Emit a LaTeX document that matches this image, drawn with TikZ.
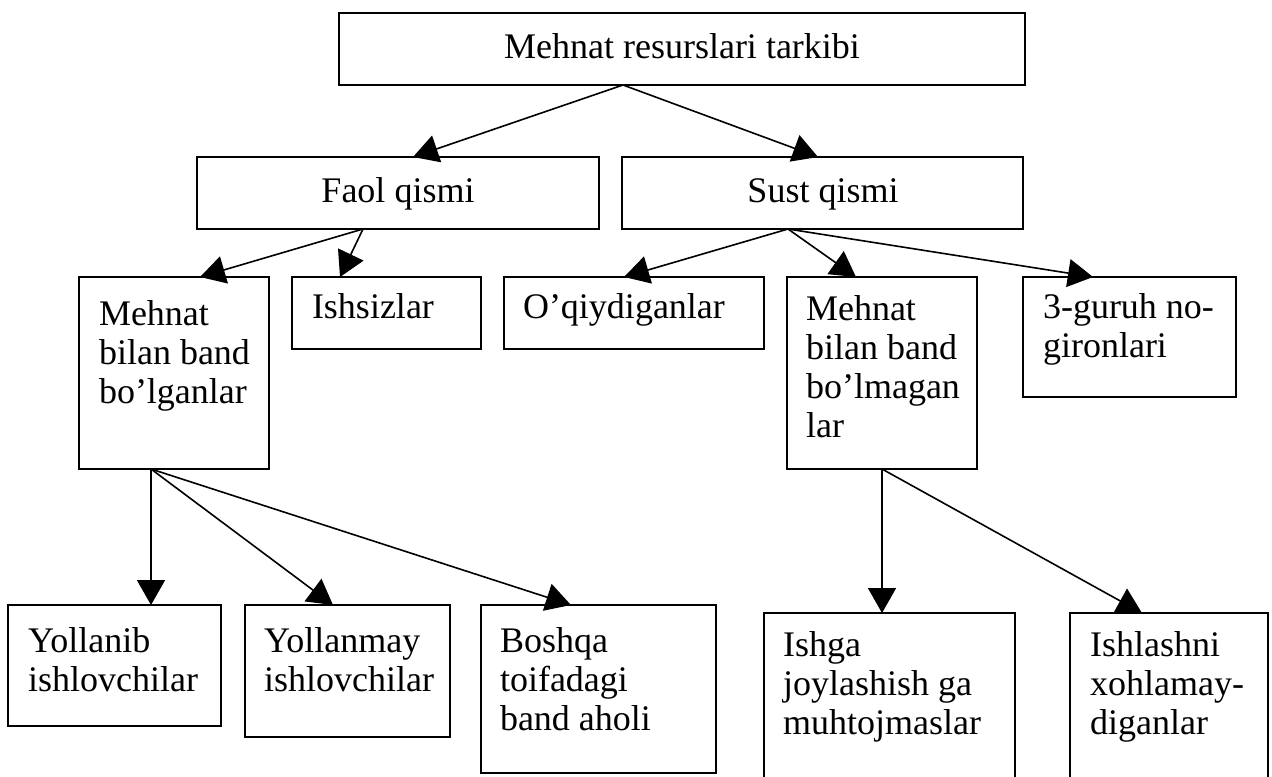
\documentclass[tikz,border=0pt]{standalone}
\usepackage{fontspec}
\setmainfont{Liberation Serif}
\usetikzlibrary{arrows.meta,calc}
\tikzset{
  box/.style={draw, line width=0.8pt, inner sep=0pt, outer sep=0pt, anchor=north west, fill=white},
  txt/.style={inner sep=0pt, outer sep=0pt, anchor=base west, font=\fontsize{18}{19.5}\selectfont},
  ctxt/.style={txt, anchor=base},
  arr/.style={line width=0.8pt, -{Triangle[length=12.5pt,width=14pt]}}
}
\newcommand{\lines}[1]{\begin{tabular}[t]{@{}l@{}}#1\end{tabular}}
\begin{document}
\begin{tikzpicture}[x=0.5pt,y=-0.5pt]
\clip (0,0) rectangle (1272,776);
\useasboundingbox (0,0) rectangle (1272,776);
% boxes
\node[box, minimum width=343pt, minimum height=36pt] (top) at (339,13) {};
\node[box, minimum width=201pt, minimum height=36pt] (faol) at (197,157) {};
\node[box, minimum width=200.5pt, minimum height=36pt] (sust) at (622,157) {};
\node[box, minimum width=95pt, minimum height=96pt] (band) at (79,277) {};
\node[box, minimum width=94.5pt, minimum height=36pt] (ishsiz) at (292,277) {};
\node[box, minimum width=130pt, minimum height=36pt] (oqiy) at (504,277) {};
\node[box, minimum width=95pt, minimum height=96pt] (nob) at (787,277) {};
\node[box, minimum width=106.5pt, minimum height=60pt] (guruh) at (1023,277) {};
\node[box, minimum width=106.5pt, minimum height=60.5pt] (yollanib) at (8,605) {};
\node[box, minimum width=102.5pt, minimum height=66pt] (yollanmay) at (245,605) {};
\node[box, minimum width=117.5pt, minimum height=84pt] (boshqa) at (481,605) {};
\node[box, minimum width=125.5pt, minimum height=88.5pt] (ishga) at (764,613) {};
\node[box, minimum width=99pt, minimum height=88.5pt] (ishlash) at (1070,613) {};
% texts
\node[ctxt] (ttop) at (682,58) {Mehnat resurslari tarkibi};
\node[ctxt] (tfaol) at (398,202) {Faol qismi};
\node[ctxt] (tsust) at (823,202) {Sust qismi};
\node[txt] (tband) at (99,325) {\lines{Mehnat\\bilan band\\bo’lganlar}};
\node[txt] (tishsiz) at (312,318) {\lines{Ishsizlar}};
\node[txt] (toqiy) at (523,318) {\lines{O’qiydiganlar}};
\node[txt] (tnob) at (806,320) {\lines{Mehnat\\bilan band\\bo’lmagan\\lar}};
\node[txt] (tguruh) at (1043,318) {\lines{3-guruh no-\\gironlari}};
\node[txt] (tyollanib) at (28,652) {\lines{Yollanib\\ishlovchilar}};
\node[txt] (tyollanmay) at (264,652) {\lines{Yollanmay\\ishlovchilar}};
\node[txt] (tboshqa) at (500,652) {\lines{Boshqa\\toifadagi\\band aholi}};
\node[txt] (tishga) at (783,656) {\lines{Ishga\\joylashish ga\\muhtojmaslar}};
\node[txt] (tishlash) at (1090,656) {\lines{Ishlashni\\xohlamay-\\diganlar}};
% connection points
\coordinate (topS) at ($(top.south west)+(284,0)$);
\coordinate (faolN) at ($(faol.north west)+(216,0)$);
\coordinate (sustN) at ($(sust.north west)+(196,0)$);
\coordinate (faolS) at ($(faol.south west)+(166,0)$);
\coordinate (bandN) at ($(band.north west)+(121,0)$);
\coordinate (ishsizN) at ($(ishsiz.north west)+(48,0)$);
\coordinate (sustS) at ($(sust.south west)+(166,0)$);
\coordinate (oqiyN) at ($(oqiy.north west)+(120,0)$);
\coordinate (nobN) at ($(nob.north west)+(69,0)$);
\coordinate (guruhN) at ($(guruh.north west)+(70,0)$);
\coordinate (bandS) at ($(band.south west)+(72,0)$);
\coordinate (yollanibN) at ($(yollanib.north west)+(143,0)$);
\coordinate (yollanmayN) at ($(yollanmay.north west)+(88,0)$);
\coordinate (boshqaN) at ($(boshqa.north west)+(90,0)$);
\coordinate (ishgaN) at ($(ishga.north west)+(118,0)$);
\coordinate (ishlashN) at ($(ishlash.north west)+(72,0)$);
% arrows
\draw[arr] (topS) -- (faolN);
\draw[arr] (topS) -- (sustN);
\draw[arr] (faolS) -- (bandN);
\draw[arr] (faolS) -- (ishsizN);
\draw[arr] (sustS) -- (oqiyN);
\draw[arr] (sustS) -- (nobN);
\draw[arr] (sustS) -- (guruhN);
\draw[arr] (bandS) -- (yollanibN);
\draw[arr] (bandS) -- (yollanmayN);
\draw[arr] (bandS) -- (boshqaN);
\draw[arr] (nob.south) -- (ishgaN);
\draw[arr] (nob.south) -- (ishlashN);
\end{tikzpicture}
\end{document}
